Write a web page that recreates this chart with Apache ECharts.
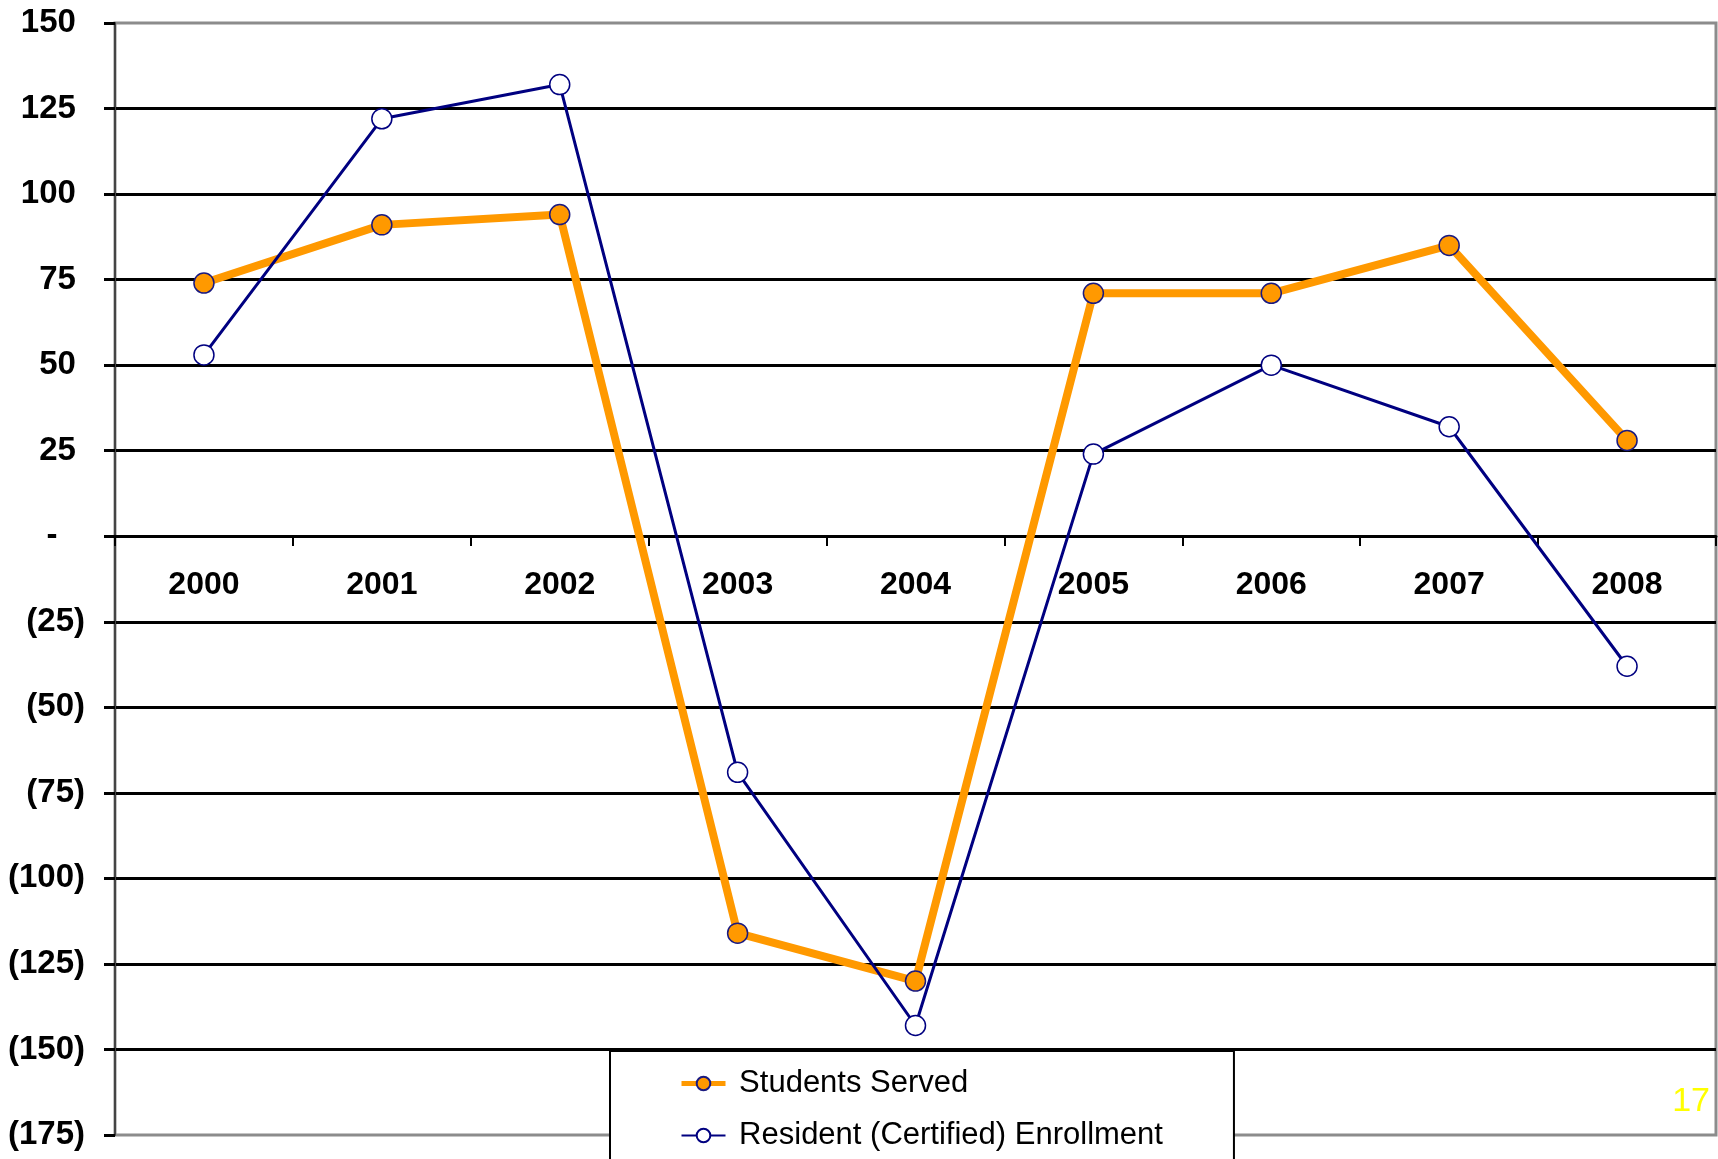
<!DOCTYPE html>
<html>
<head>
<meta charset="utf-8">
<script src="https://cdn.jsdelivr.net/npm/echarts@6/dist/echarts.min.js"></script>
<style>
  html, body { margin: 0; padding: 0; background: #fff; }
  #chart { width: 1718px; height: 1159px; }
</style>
</head>
<body>
<div id="chart"></div>
<script>
const years = ['2000', '2001', '2002', '2003', '2004', '2005', '2006', '2007', '2008'];
const studentsServed = [74, 91, 94, -116, -130, 71, 71, 85, 28];
const residentEnrollment = [53, 122, 132, -69, -143, 24, 50, 32, -38];
const seriesNames = ['Students Served', 'Resident (Certified) Enrollment'];
const pageNumber = '17';

const fontFamily = '"Liberation Sans", Arial, sans-serif';

// accounting style: "-" for zero, brackets for negatives
const fmtY = (v) => {
    if (v === 0) return '-   ';
    if (v < 0) return '(' + (-v) + ')';
    return v + ' ';
};

const chart = echarts.init(document.getElementById('chart'));

const option = {
    animation: false,
    backgroundColor: '#fff',
    grid: {
        left: 115,
        top: 23,
        right: 2,
        bottom: 24,
        show: true,
        borderColor: '#8c8c8c',
        borderWidth: 3,
        backgroundColor: 'transparent'
    },
    title: {
        text: pageNumber,
        right: 3,
        top: 1080,
        textStyle: { color: '#ffff00', fontSize: 34, fontWeight: 'normal', fontFamily: fontFamily }
    },
    legend: {
        data: [
            { name: seriesNames[0], lineStyle: { width: 5 } },
            { name: seriesNames[1], lineStyle: { width: 2 } }
        ],
        orient: 'vertical',
        left: 610,
        top: 1051,
        height: 140,
        itemWidth: 44,
        itemHeight: 17,
        itemGap: 21,
        padding: [17, 71, 60, 69],
        backgroundColor: '#fff',
        borderColor: '#000',
        borderWidth: 2,
        formatter: (name) => ' ' + name,
        textStyle: { color: '#000', fontSize: 31, fontFamily: fontFamily }
    },
    xAxis: {
        type: 'category',
        data: years,
        boundaryGap: true,
        offset: -599,
        axisLine: { onZero: false, lineStyle: { color: '#000', width: 3 } },
        axisTick: { show: true, inside: false, length: 10, lineStyle: { color: '#000', width: 2 } },
        axisLabel: {
            margin: 33,
            color: '#000',
            fontSize: 32,
            fontWeight: 'bold',
            fontFamily: fontFamily
        },
        splitLine: { show: false }
    },
    yAxis: {
        type: 'value',
        min: -175,
        max: 150,
        interval: 25,
        axisLine: { show: true, lineStyle: { color: '#444', width: 2 } },
        axisTick: { show: true, length: 11, lineStyle: { color: '#000', width: 3 } },
        axisLabel: {
            margin: 30,
            color: '#000',
            fontSize: 33,
            fontWeight: 'bold',
            fontFamily: fontFamily,
            formatter: fmtY
        },
        splitLine: {
            show: true,
            showMinLine: false,
            showMaxLine: false,
            lineStyle: { color: '#000', width: 3 }
        }
    },
    series: [
        {
            name: seriesNames[0],
            type: 'line',
            data: studentsServed,
            symbol: 'circle',
            symbolSize: 20,
            z: 3,
            lineStyle: { color: '#ff9900', width: 8 },
            itemStyle: { color: '#ff9900', borderColor: '#1a1a80', borderWidth: 1.5 }
        },
        {
            name: seriesNames[1],
            type: 'line',
            data: residentEnrollment,
            symbol: 'circle',
            symbolSize: 20,
            z: 4,
            lineStyle: { color: '#000080', width: 3 },
            itemStyle: { color: '#fff', borderColor: '#000080', borderWidth: 1.5 }
        }
    ]
};

chart.setOption(option);
</script>
</body>
</html>
